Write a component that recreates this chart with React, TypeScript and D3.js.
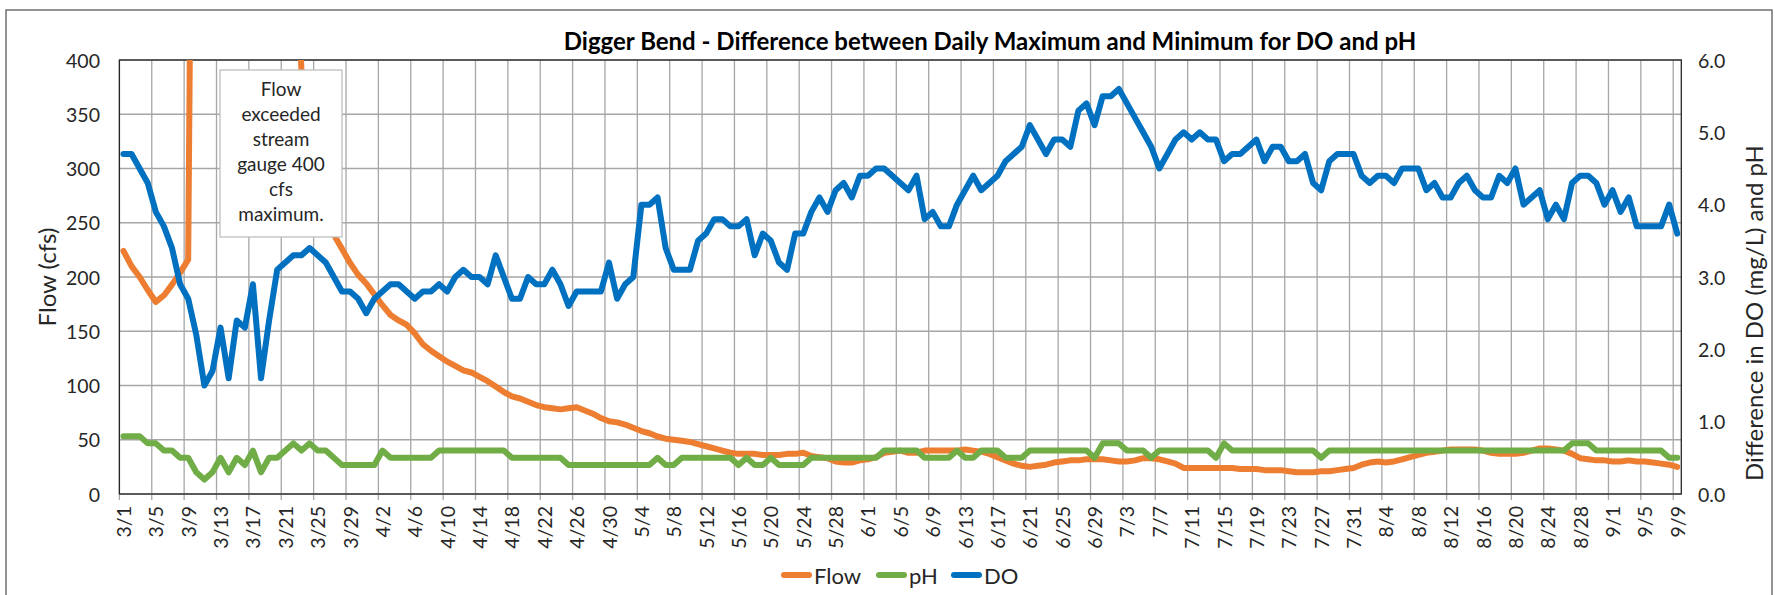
import React from 'react';
import * as d3 from 'd3';

// one category per day, 3/1 to 9/9
const dates = d3.timeDay.range(new Date(2019, 2, 1), new Date(2019, 8, 10));
const dateLabels = dates.map(d3.timeFormat('%-m/%-d'));

// Flow (cfs). 3/10 - 3/22 were above the 400 cfs gauge limit and run off the top.
const flow = [
  224, 210, 200, 188, 177, 183, 193, 204, 216, 1150, 1650, 1900, 1750, 1500, 1300, 1150, 1000, 1100, 950, 800, 680, 560, 390, 340, 300, 265, 239, 226, 213, 202, 194,
  184, 174, 165, 160, 156, 148, 138, 132, 127, 122, 118, 114, 112, 108, 104, 99, 94, 90, 88, 85, 82, 80, 79, 78, 79, 80, 77, 74, 70, 67,
  66, 64, 61, 58, 56, 53, 51, 50, 49, 48, 46, 44, 42, 40, 38, 37, 37, 37, 36, 36, 36, 37, 37, 38, 35, 34, 33, 30, 29, 29, 31,
  32, 34, 38, 39, 40, 38, 38, 40, 40, 40, 40, 40, 41, 40, 39, 37, 34, 31, 28, 26, 25, 26, 27, 29, 30, 31, 31, 32, 32, 32,
  31, 30, 30, 31, 33, 33, 32, 30, 28, 24, 24, 24, 24, 24, 24, 24, 23, 23, 23, 22, 22, 22, 21, 20, 20, 20, 21, 21, 22, 23, 24,
  27, 29, 30, 29, 30, 32, 34, 36, 38, 39, 40, 41, 41, 41, 41, 40, 38, 37, 37, 37, 38, 40, 42, 42, 41, 40, 37, 33, 32, 31, 31,
  30, 30, 31, 30, 30, 29, 28, 27, 25,
];

// pH difference (daily max - min)
const ph = [
  0.8, 0.8, 0.8, 0.7, 0.7, 0.6, 0.6, 0.5, 0.5, 0.3, 0.2, 0.3, 0.5, 0.3, 0.5, 0.4, 0.6, 0.3, 0.5, 0.5, 0.6, 0.7, 0.6, 0.7, 0.6, 0.6, 0.5, 0.4, 0.4, 0.4, 0.4,
  0.4, 0.6, 0.5, 0.5, 0.5, 0.5, 0.5, 0.5, 0.6, 0.6, 0.6, 0.6, 0.6, 0.6, 0.6, 0.6, 0.6, 0.5, 0.5, 0.5, 0.5, 0.5, 0.5, 0.5, 0.4, 0.4, 0.4, 0.4, 0.4, 0.4,
  0.4, 0.4, 0.4, 0.4, 0.4, 0.5, 0.4, 0.4, 0.5, 0.5, 0.5, 0.5, 0.5, 0.5, 0.5, 0.4, 0.5, 0.4, 0.4, 0.5, 0.4, 0.4, 0.4, 0.4, 0.5, 0.5, 0.5, 0.5, 0.5, 0.5, 0.5,
  0.5, 0.5, 0.6, 0.6, 0.6, 0.6, 0.6, 0.5, 0.5, 0.5, 0.5, 0.6, 0.5, 0.5, 0.6, 0.6, 0.6, 0.5, 0.5, 0.5, 0.6, 0.6, 0.6, 0.6, 0.6, 0.6, 0.6, 0.6, 0.5, 0.7,
  0.7, 0.7, 0.6, 0.6, 0.6, 0.5, 0.6, 0.6, 0.6, 0.6, 0.6, 0.6, 0.6, 0.5, 0.7, 0.6, 0.6, 0.6, 0.6, 0.6, 0.6, 0.6, 0.6, 0.6, 0.6, 0.6, 0.5, 0.6, 0.6, 0.6, 0.6,
  0.6, 0.6, 0.6, 0.6, 0.6, 0.6, 0.6, 0.6, 0.6, 0.6, 0.6, 0.6, 0.6, 0.6, 0.6, 0.6, 0.6, 0.6, 0.6, 0.6, 0.6, 0.6, 0.6, 0.6, 0.6, 0.6, 0.7, 0.7, 0.7, 0.6, 0.6,
  0.6, 0.6, 0.6, 0.6, 0.6, 0.6, 0.6, 0.5, 0.5,
];

// DO difference (mg/L)
const dox = [
  4.7, 4.7, 4.5, 4.3, 3.9, 3.7, 3.4, 2.9, 2.7, 2.2, 1.5, 1.7, 2.3, 1.6, 2.4, 2.3, 2.9, 1.6, 2.4, 3.1, 3.2, 3.3, 3.3, 3.4, 3.3, 3.2, 3.0, 2.8, 2.8, 2.7, 2.5,
  2.7, 2.8, 2.9, 2.9, 2.8, 2.7, 2.8, 2.8, 2.9, 2.8, 3.0, 3.1, 3.0, 3.0, 2.9, 3.3, 3.0, 2.7, 2.7, 3.0, 2.9, 2.9, 3.1, 2.9, 2.6, 2.8, 2.8, 2.8, 2.8, 3.2,
  2.7, 2.9, 3.0, 4.0, 4.0, 4.1, 3.4, 3.1, 3.1, 3.1, 3.5, 3.6, 3.8, 3.8, 3.7, 3.7, 3.8, 3.3, 3.6, 3.5, 3.2, 3.1, 3.6, 3.6, 3.9, 4.1, 3.9, 4.2, 4.3, 4.1, 4.4,
  4.4, 4.5, 4.5, 4.4, 4.3, 4.2, 4.4, 3.8, 3.9, 3.7, 3.7, 4.0, 4.2, 4.4, 4.2, 4.3, 4.4, 4.6, 4.7, 4.8, 5.1, 4.9, 4.7, 4.9, 4.9, 4.8, 5.3, 5.4, 5.1, 5.5,
  5.5, 5.6, 5.4, 5.2, 5.0, 4.8, 4.5, 4.7, 4.9, 5.0, 4.9, 5.0, 4.9, 4.9, 4.6, 4.7, 4.7, 4.8, 4.9, 4.6, 4.8, 4.8, 4.6, 4.6, 4.7, 4.3, 4.2, 4.6, 4.7, 4.7, 4.7,
  4.4, 4.3, 4.4, 4.4, 4.3, 4.5, 4.5, 4.5, 4.2, 4.3, 4.1, 4.1, 4.3, 4.4, 4.2, 4.1, 4.1, 4.4, 4.3, 4.5, 4.0, 4.1, 4.2, 3.8, 4.0, 3.8, 4.3, 4.4, 4.4, 4.3, 4.0,
  4.2, 3.9, 4.1, 3.7, 3.7, 3.7, 3.7, 4.0, 3.6,
];

const flowTicks = [0, 50, 100, 150, 200, 250, 300, 350, 400];
const rightTicks = [0, 1, 2, 3, 4, 5, 6];
const noteLines = ['Flow', 'exceeded', 'stream', 'gauge 400', 'cfs', 'maximum.'];

const series = [
  { name: 'Flow', values: flow, color: '#ED7D31', axis: 'left' },
  { name: 'pH', values: ph, color: '#70AD47', axis: 'right' },
  { name: 'DO', values: dox, color: '#0070C0', axis: 'right' },
];

const FONT = 'Lato, "Open Sans", sans-serif';

export default function App() {
  const W = 1775, H = 595;
  const m = { left: 119.4, right: 1681.3, top: 60, bottom: 494 };

  const x = d3.scaleBand<number>().domain(d3.range(dates.length)).range([m.left, m.right]).padding(0);
  const bw = x.bandwidth();
  const cx = (i: number) => (x(i) as number) + bw / 2;
  const yFlow = d3.scaleLinear().domain([0, 400]).range([m.bottom, m.top]);
  const yRight = d3.scaleLinear().domain([0, 6]).range([m.bottom, m.top]);

  const makeLine = (axis: string) =>
    d3.line<number>()
      .x((_, i) => cx(i))
      .y(v => (axis === 'left' ? yFlow(v) : yRight(v)));

  const tickIdx = d3.range(dates.length).filter(i => i % 4 === 0);
  const legendX = [781, 876, 951];

  return (
    <svg width={W} height={H} style={{ position: 'absolute', left: 0, top: 0, background: '#fff' }} fontFamily={FONT}>
      <defs>
        <clipPath id="plot-clip">
          <rect x={m.left} y={m.top} width={m.right - m.left} height={m.bottom - m.top} />
        </clipPath>
      </defs>
      <rect x={6} y={10} width={1766} height={620} fill="#fff" stroke="#595959" strokeWidth={1.3} />

      <text x={990} y={50} textAnchor="middle" fontSize={24} fontWeight="bold" fill="#000">
        Digger Bend - Difference between Daily Maximum and Minimum for DO and pH
      </text>

      {/* grid */}
      {flowTicks.map(t => (
        <line key={'h' + t} x1={m.left} x2={m.right} y1={yFlow(t)} y2={yFlow(t)} stroke="#a6a6a6" strokeWidth={1.3} />
      ))}
      {tickIdx.map(i => (
        <line key={'v' + i} x1={x(i)} x2={x(i)} y1={m.top} y2={m.bottom + 6} stroke="#a6a6a6" strokeWidth={1.3} />
      ))}
      <rect x={m.left} y={m.top} width={m.right - m.left} height={m.bottom - m.top} fill="none" stroke="#262626" strokeWidth={1.3} />

      {/* series */}
      <g clipPath="url(#plot-clip)">
        {series.map(s => (
          <path key={s.name} d={makeLine(s.axis)(s.values) || ''} fill="none" stroke={s.color}
            strokeWidth={6} strokeLinejoin="round" strokeLinecap="round" />
        ))}
      </g>

      {/* note */}
      <rect x={220} y={70} width={122} height={167} fill="#fff" stroke="#bfbfbf" strokeWidth={1.3} />
      {noteLines.map((t, k) => (
        <text key={t} x={281} y={88 + k * 25} textAnchor="middle" dominantBaseline="central" fontSize={19} fill="#262626">{t}</text>
      ))}

      {/* left axis */}
      {flowTicks.map(t => (
        <text key={'l' + t} x={100} y={yFlow(t)} textAnchor="end" dominantBaseline="central" fontSize={19.5} fill="#262626">{t}</text>
      ))}
      <text transform={`translate(46,${(m.top + m.bottom) / 2}) rotate(-90)`} textAnchor="middle" dominantBaseline="central" fontSize={24} fill="#262626">
        Flow (cfs)
      </text>

      {/* right axis */}
      {rightTicks.map(t => (
        <text key={'r' + t} x={1698} y={yRight(t)} textAnchor="start" dominantBaseline="central" fontSize={19.5} fill="#262626">{d3.format('.1f')(t)}</text>
      ))}
      <text transform={`translate(1753,313) rotate(-90)`} textAnchor="middle" dominantBaseline="central" fontSize={24} fill="#262626">
        Difference in DO (mg/L) and pH
      </text>

      {/* bottom axis labels */}
      {tickIdx.map(i => (
        <text key={'x' + i} transform={`translate(${cx(i)},${m.bottom + 12}) rotate(-90)`} textAnchor="end" dominantBaseline="central" fontSize={19.5} fill="#262626">
          {dateLabels[i]}
        </text>
      ))}

      {/* legend */}
      {series.map((s, k) => (
        <g key={'lg' + s.name} transform={`translate(${legendX[k]},575)`}>
          <line x1={3} x2={28} y1={0} y2={0} stroke={s.color} strokeWidth={6} strokeLinecap="round" />
          <text x={33} y={0} dominantBaseline="central" fontSize={22} fill="#262626">{s.name}</text>
        </g>
      ))}
    </svg>
  );
}
